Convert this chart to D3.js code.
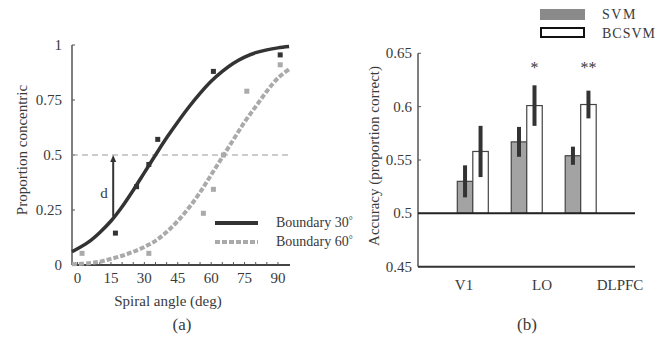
<!DOCTYPE html>
<html>
<head>
<meta charset="utf-8">
<script src="https://cdn.jsdelivr.net/npm/d3@7"></script>
<style>
  body { margin: 0; background: #fff; }
  svg text { font-family: "Liberation Serif", "Times New Roman", "DejaVu Serif", serif; fill: #3a3a3a; }
</style>
</head>
<body>
<div id="chart"></div>
<script>
// Panel (a): psychometric curves
const curveAngles = [-2.5, 5, 10, 15, 20, 25, 30, 35, 40, 45, 50, 55, 60, 65, 70, 75, 80, 85, 90, 95];
const fit30 = [0.06, 0.105, 0.148, 0.2, 0.265, 0.34, 0.42, 0.5, 0.578, 0.65, 0.718, 0.78, 0.835, 0.88, 0.917, 0.945, 0.965, 0.978, 0.987, 0.993];
const fit60 = [0.003, 0.008, 0.015, 0.028, 0.042, 0.06, 0.082, 0.11, 0.15, 0.2, 0.26, 0.33, 0.41, 0.49, 0.57, 0.65, 0.72, 0.79, 0.85, 0.89];
const obs30X = [17, 26.5, 32, 36, 61, 91];
const obs30Y = [0.145, 0.356, 0.457, 0.571, 0.88, 0.955];
const obs60X = [2, 32, 56.5, 61, 65.5, 76, 91];
const obs60Y = [0.053, 0.053, 0.235, 0.344, 0.5, 0.79, 0.91];
const angleTicks = [0, 15, 30, 45, 60, 75, 90];
const propTicks = [0, 0.25, 0.5, 0.75, 1];
const dAngle = 16;
const dFrom = 0.22;

// Panel (b): accuracy bars
const regions = ["V1", "LO", "DLPFC"];
const svmAcc = [0.530, 0.567, 0.554];
const svmErr = [0.015, 0.014, 0.0085];
const bcsvmAcc = [0.558, 0.601, 0.602];
const bcsvmErr = [0.024, 0.019, 0.013];
const stars = ["", "*", "**"];
const accTicks = [0.45, 0.5, 0.55, 0.6, 0.65];

const serif = "'Liberation Serif', 'Times New Roman', 'DejaVu Serif', serif";

const svg = d3.select("#chart").append("svg")
    .attr("width", 662)
    .attr("height", 337)
    .attr("font-family", serif);

const ink = "#333";

// ---------- panel (a) ----------
const x = d3.scaleLinear().domain([-2.5, 95.4]).range([72, 290]);
const y = d3.scaleLinear().domain([0, 1]).range([265, 45]);

const a = svg.append("g");

// axes
a.append("line").attr("x1", 72).attr("x2", 72).attr("y1", y(1)).attr("y2", y(0))
    .attr("stroke", "#555").attr("stroke-width", 1.5);
a.append("line").attr("x1", 72).attr("x2", 290).attr("y1", y(0)).attr("y2", y(0))
    .attr("stroke", "#444").attr("stroke-width", 2);

// minor ticks every 5 deg
a.selectAll(".minor")
    .data(d3.range(0, 95, 5))
    .enter().append("line")
    .attr("x1", d => x(d)).attr("x2", d => x(d))
    .attr("y1", y(0)).attr("y2", y(0) - 3)
    .attr("stroke", "#555").attr("stroke-width", 1);

a.selectAll(".xlab")
    .data(angleTicks)
    .enter().append("text")
    .attr("x", d => x(d))
    .attr("y", 283)
    .attr("text-anchor", "middle")
    .style("font-size", "15px")
    .text(d => d);

a.selectAll(".ytick")
    .data(propTicks)
    .enter().append("line")
    .attr("x1", 72).attr("x2", 75)
    .attr("y1", d => y(d)).attr("y2", d => y(d))
    .attr("stroke", "#555");

a.selectAll(".ylab")
    .data(propTicks)
    .enter().append("text")
    .attr("x", 62)
    .attr("y", d => y(d) + 5)
    .attr("text-anchor", "end")
    .style("font-size", "15px")
    .text(d => d);

a.append("text")
    .attr("transform", "translate(27,150) rotate(-90)")
    .attr("text-anchor", "middle")
    .style("font-size", "15px")
    .text("Proportion concentric");

a.append("text")
    .attr("x", 168).attr("y", 306)
    .attr("text-anchor", "middle")
    .style("font-size", "15px")
    .text("Spiral angle (deg)");

a.append("text")
    .attr("x", 182).attr("y", 330)
    .attr("text-anchor", "middle")
    .style("font-size", "17px")
    .text("(a)");

// 0.5 reference line
a.append("line")
    .attr("x1", 72).attr("x2", 290)
    .attr("y1", y(0.5)).attr("y2", y(0.5))
    .attr("stroke", "#999").attr("stroke-width", 1)
    .style("stroke-dasharray", "6,4");

const line = d3.line()
    .x(d => x(d[0]))
    .y(d => y(d[1]))
    .curve(d3.curveCatmullRom);

a.append("path")
    .attr("d", line(curveAngles.map((v, i) => [v, fit60[i]])))
    .attr("fill", "none")
    .attr("stroke", "#aaa")
    .attr("stroke-width", 4)
    .style("stroke-dasharray", "5,2");

a.append("path")
    .attr("d", line(curveAngles.map((v, i) => [v, fit30[i]])))
    .attr("fill", "none")
    .attr("stroke", ink)
    .attr("stroke-width", 3.5);

// observed points
a.selectAll(".p60")
    .data(obs60X.map((v, i) => [v, obs60Y[i]]))
    .enter().append("rect")
    .attr("x", d => x(d[0]) - 2.5).attr("y", d => y(d[1]) - 2.5)
    .attr("width", 5).attr("height", 5)
    .attr("fill", "#aaa");

a.selectAll(".p30")
    .data(obs30X.map((v, i) => [v, obs30Y[i]]))
    .enter().append("rect")
    .attr("x", d => x(d[0]) - 2.5).attr("y", d => y(d[1]) - 2.5)
    .attr("width", 5).attr("height", 5)
    .attr("fill", ink);

// d arrow
a.append("line")
    .attr("x1", x(dAngle)).attr("x2", x(dAngle))
    .attr("y1", y(dFrom)).attr("y2", y(0.5) + 4)
    .attr("stroke", ink).attr("stroke-width", 2);
a.append("path")
    .attr("d", `M${x(dAngle)},${y(0.5)} l-3,7 l6,0 z`)
    .attr("fill", ink);
a.append("text")
    .attr("x", 104).attr("y", 198)
    .attr("text-anchor", "middle")
    .style("font-size", "15px")
    .text("d");

// legend
const leg = [
    { label: "Boundary 30", color: ink, dash: null },
    { label: "Boundary 60", color: "#aaa", dash: "5,2" }
];
leg.forEach((d, i) => {
    const ly = 223 + i * 19;
    a.append("line")
        .attr("x1", 215).attr("x2", 258)
        .attr("y1", ly).attr("y2", ly)
        .attr("stroke", d.color).attr("stroke-width", 4)
        .style("stroke-dasharray", d.dash);
    const t = a.append("text")
        .attr("x", 276).attr("y", ly + 4)
        .style("font-size", "14px")
        .text(d.label);
    t.append("tspan").attr("dy", -3).style("font-size", "10px").text("°");
});

// ---------- panel (b) ----------
const yb = d3.scaleLinear().domain([0.45, 0.65]).range([266.7, 53.3]);
const xb = d3.scalePoint().domain(regions).range([472.8, 580.7]);
const xl = d3.scalePoint().domain(regions).range([464, 620]);
const bw = 15.5;

const b = svg.append("g");

b.append("line").attr("x1", 418).attr("x2", 418).attr("y1", yb(0.65)).attr("y2", yb(0.45))
    .attr("stroke", "#555").attr("stroke-width", 1.5);

b.selectAll(".ytick")
    .data(accTicks)
    .enter().append("line")
    .attr("x1", 418).attr("x2", 421)
    .attr("y1", d => yb(d)).attr("y2", d => yb(d))
    .attr("stroke", "#555");

b.selectAll(".ylab")
    .data(accTicks)
    .enter().append("text")
    .attr("x", 412)
    .attr("y", d => yb(d) + 5)
    .attr("text-anchor", "end")
    .style("font-size", "15px")
    .text(d => d);

b.append("text")
    .attr("transform", "translate(379,156) rotate(-90)")
    .attr("text-anchor", "middle")
    .style("font-size", "15px")
    .text("Accuracy (proportion correct)");

b.selectAll(".xlab")
    .data(regions)
    .enter().append("text")
    .attr("x", d => xl(d))
    .attr("y", 290)
    .attr("text-anchor", "middle")
    .style("font-size", "15px")
    .text(d => d);

b.append("text")
    .attr("x", 527).attr("y", 330)
    .attr("text-anchor", "middle")
    .style("font-size", "17px")
    .text("(b)");

// bars
b.selectAll(".svm")
    .data(regions)
    .enter().append("rect")
    .attr("x", d => xb(d) - bw)
    .attr("y", (d, i) => yb(svmAcc[i]))
    .attr("width", bw)
    .attr("height", (d, i) => yb(0.5) - yb(svmAcc[i]))
    .attr("fill", "#a3a3a3")
    .attr("stroke", "#444").attr("stroke-width", 1.2);

b.selectAll(".bcsvm")
    .data(regions)
    .enter().append("rect")
    .attr("x", d => xb(d))
    .attr("y", (d, i) => yb(bcsvmAcc[i]))
    .attr("width", bw)
    .attr("height", (d, i) => yb(0.5) - yb(bcsvmAcc[i]))
    .attr("fill", "#fff")
    .attr("stroke", "#444").attr("stroke-width", 1.2);

// error bars
b.selectAll(".esvm")
    .data(regions)
    .enter().append("line")
    .attr("x1", d => xb(d) - bw / 2).attr("x2", d => xb(d) - bw / 2)
    .attr("y1", (d, i) => yb(svmAcc[i] - svmErr[i]))
    .attr("y2", (d, i) => yb(svmAcc[i] + svmErr[i]))
    .attr("stroke", ink).attr("stroke-width", 4);

b.selectAll(".ebcsvm")
    .data(regions)
    .enter().append("line")
    .attr("x1", d => xb(d) + bw / 2).attr("x2", d => xb(d) + bw / 2)
    .attr("y1", (d, i) => yb(bcsvmAcc[i] - bcsvmErr[i]))
    .attr("y2", (d, i) => yb(bcsvmAcc[i] + bcsvmErr[i]))
    .attr("stroke", ink).attr("stroke-width", 4);

b.selectAll(".star")
    .data(regions)
    .enter().append("text")
    .attr("x", d => xb(d) + bw / 2)
    .attr("y", 73)
    .attr("text-anchor", "middle")
    .style("font-size", "16px")
    .text((d, i) => stars[i]);

// 0.5 baseline and bottom axis
b.append("line").attr("x1", 418).attr("x2", 635).attr("y1", yb(0.5)).attr("y2", yb(0.5))
    .attr("stroke", "#222").attr("stroke-width", 2);
b.append("line").attr("x1", 418).attr("x2", 635).attr("y1", yb(0.45)).attr("y2", yb(0.45))
    .attr("stroke", "#333").attr("stroke-width", 2);

// legend
b.append("rect").attr("x", 540).attr("y", 9).attr("width", 45).attr("height", 11)
    .attr("fill", "#8a8a8a");
b.append("text").attr("x", 602).attr("y", 19).style("font-size", "14px")
    .style("letter-spacing", "1.5px").text("SVM");
b.append("rect").attr("x", 541).attr("y", 28).attr("width", 43).attr("height", 9)
    .attr("fill", "#fff").attr("stroke", "#111").attr("stroke-width", 2);
b.append("text").attr("x", 602).attr("y", 38).style("font-size", "14px")
    .style("letter-spacing", "1px").text("BCSVM");
</script>
</body>
</html>
